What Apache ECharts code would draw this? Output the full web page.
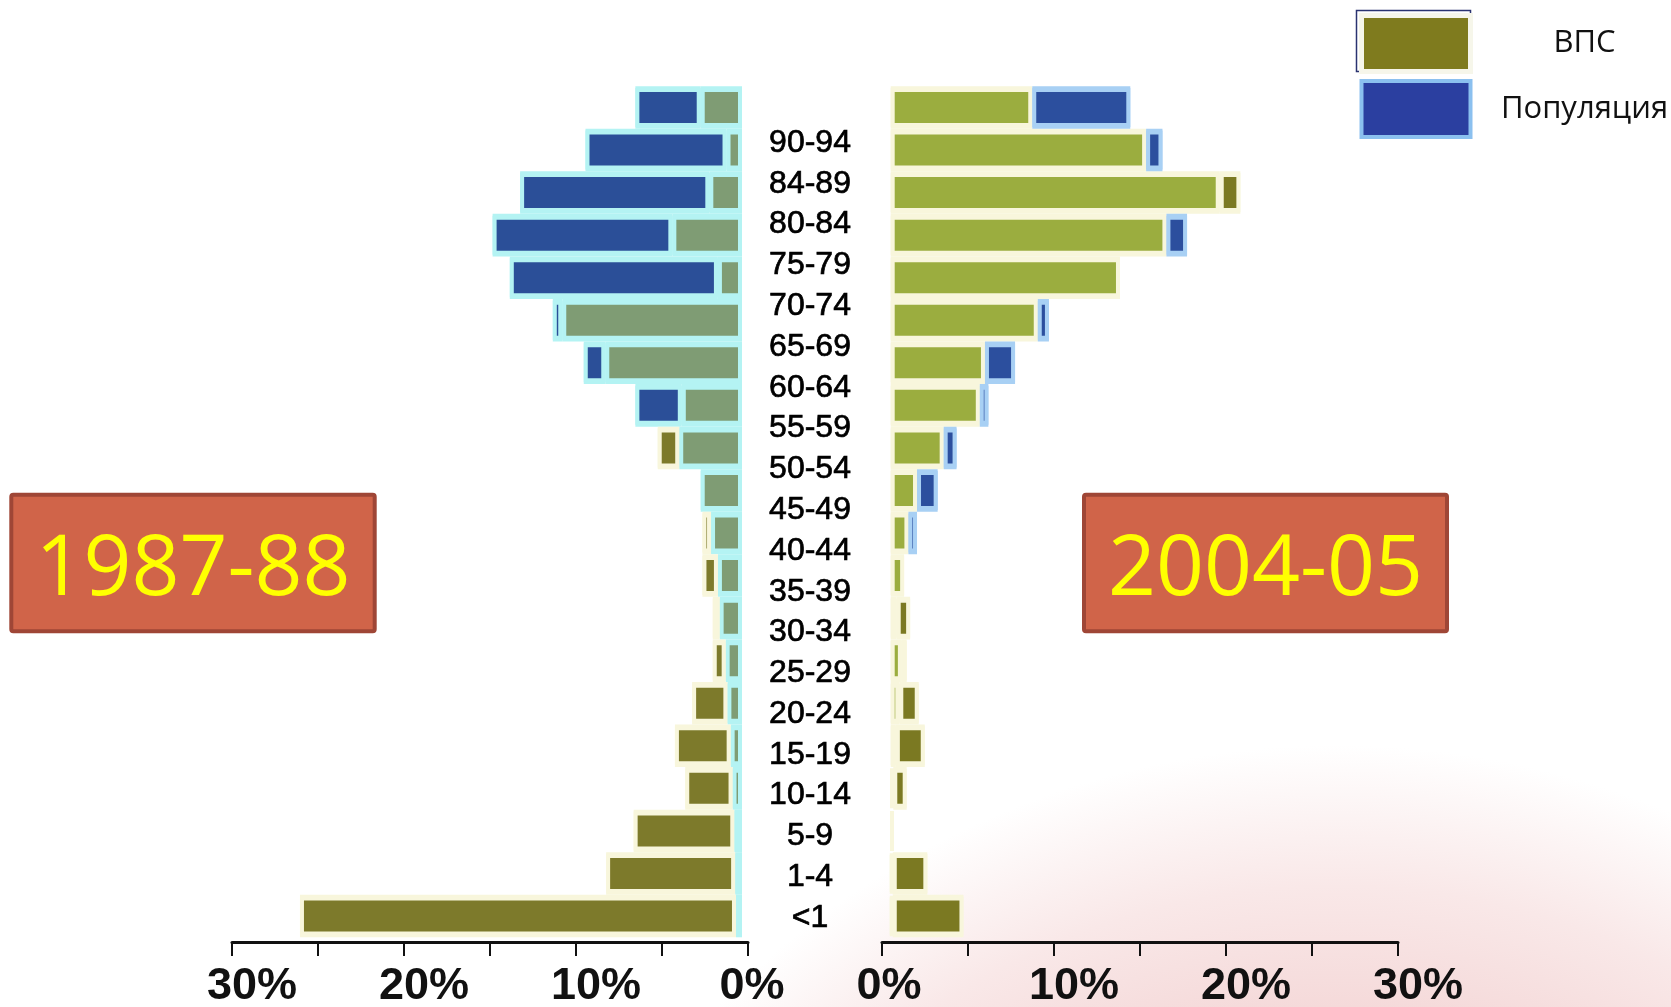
<!DOCTYPE html>
<html><head><meta charset="utf-8">
<script src="https://cdn.jsdelivr.net/npm/echarts@6/dist/echarts.min.js"></script>
<style>html,body{margin:0;padding:0;background:#fff}#c{width:1671px;height:1007px}</style>
</head><body><div id="c"></div>
<script>
// Age groups, bottom (<1) to top
const ageGroups = ['<1','1-4','5-9','10-14','15-19','20-24','25-29','30-34','35-39','40-44','45-49','50-54','55-59','60-64','65-69','70-74','75-79','80-84','84-89','90-94'];
// 1987-88 (%)
const chd1987 = [25.7, 7.9, 6.3, 3.3, 3.9, 2.9, 1.7, 1.7, 2.3, 2.3, 2.4, 4.9, 3.5, 7.95, 10.45, 1.4, 4.05, 1.9, 0.9, 2.4];
const pop1987 = [0.35, 0.4, 0.45, 0.55, 0.66, 0.85, 0.95, 1.3, 1.4, 1.8, 2.4, 3.65, 6.2, 9.2, 11.0, 13.5, 14.5, 12.9, 9.1, 6.2];
// 2004-05 (%)
const chd2004 = [4.23, 2.13, 0.15, 0.93, 1.98, 1.63, 0.93, 1.13, 0.78, 1.03, 1.53, 3.08, 5.18, 5.48, 8.55, 13.33, 16.03, 20.33, 14.85, 8.23];
const pop2004 = [0.12, 0.12, 0.15, 0.15, 0.3, 0.5, 0.65, 0.35, 0.78, 1.53, 2.73, 3.83, 5.68, 7.23, 9.2, 13.33, 17.23, 19.13, 15.8, 13.93];
const axisTicks = [0, 10, 20, 30];
const yearLabels = ['1987-88', '2004-05'];
const seriesNames = ['ВПС', 'Популяция'];

function split(chd, pop) {
  const overlap = chd.map((v, i) => Math.min(v, pop[i]));
  const popEx = chd.map((v, i) => (pop[i] - v > 0.001 ? +(pop[i] - v).toFixed(3) : '-'));
  const chdEx = chd.map((v, i) => (v - pop[i] > 0.001 ? +(v - pop[i]).toFixed(3) : '-'));
  return { overlap, popEx, chdEx };
}
const L = split(chd1987, pop1987);
const R = split(chd2004, pop2004);

const BW = 4;
function barSeries(name, data, axis, stack, color, border, gap, z) {
  return {
    name, type: 'bar', xAxisIndex: axis, yAxisIndex: axis, stack, data,
    barCategoryGap: gap, silent: true, z,
    itemStyle: { color, borderColor: border, borderWidth: BW }
  };
}
const CY = '#b4f3f3', CR = '#f8f6dc', LB = '#a8d0f4';

const labelFont = "'Liberation Sans',Arial,sans-serif";
function displayAxis(grid, inverse, zeroPad) {
  return {
    gridIndex: grid, type: 'value', min: 0, max: 30, interval: 5, inverse,
    axisLine: { show: true, lineStyle: { color: '#111', width: 3 } },
    axisTick: { show: true, length: 14, lineStyle: { color: '#111', width: 2 } },
    splitLine: { show: false },
    axisLabel: {
      margin: 22, color: '#111', fontSize: 45, fontWeight: 'bold', fontFamily: labelFont,
      formatter: v => (axisTicks.indexOf(v) < 0 ? '' : (v === 0 ? '{z|0%}' : '{n|' + v + '%}')),
      rich: { n: { padding: [0, 0, 0, 40] }, z: { padding: [0, 0, 0, zeroPad] } }
    }
  };
}
const hiddenCat = g => ({ gridIndex: g, type: 'category', data: ageGroups, show: false });
const hiddenVal = (g, inverse) => ({ gridIndex: g, type: 'value', min: 0, max: 30, show: false, inverse });
const barGrid = left => ({ left, width: 516, top: 86.2, bottom: 69.7, outerBoundsMode: 'none' });

const chart = echarts.init(document.getElementById('c'));
chart.setOption({
  animation: false,
  backgroundColor: { type: 'radial', x: 0.8, y: 1.6, r: 1.0, colorStops: [
    { offset: 0, color: '#f0c8c8' }, { offset: 0.6, color: '#f5dada' }, { offset: 0.72, color: '#f9e8e8' },
    { offset: 0.86, color: '#ffffff' }, { offset: 1, color: '#ffffff' } ] },
  grid: [
    barGrid(226),
    { left: 232, width: 516, top: 86, bottom: 65, outerBoundsMode: 'none' },
    barGrid(890.7),
    { left: 882, width: 516, top: 86, bottom: 65, outerBoundsMode: 'none' },
    { left: 748, width: 134, top: 122.6, bottom: 68.6, outerBoundsMode: 'none' },
    barGrid(226),
    barGrid(890.7)
  ],
  xAxis: [
    hiddenVal(0, true),
    displayAxis(1, true, 8),
    hiddenVal(2, false),
    displayAxis(3, false, 14),
    { gridIndex: 4, type: 'value', show: false },
    hiddenVal(5, true),
    hiddenVal(6, false)
  ],
  yAxis: [
    hiddenCat(0), hiddenCat(1), hiddenCat(2), hiddenCat(3),
    { gridIndex: 4, type: 'category', data: ageGroups, position: 'left',
      axisLine: { show: false }, axisTick: { show: false },
      axisLabel: { inside: true, interval: 0, margin: 62, align: 'center', color: '#000', fontSize: 32,
        textBorderColor: '#000', textBorderWidth: 0.7,
        fontFamily: "'Liberation Sans',Arial,sans-serif" } },
    hiddenCat(5), hiddenCat(6)
  ],
  legend: {
    left: 1359, top: 13, padding: 0, orient: 'vertical', itemWidth: 109, itemHeight: 56, itemGap: 5,
    icon: 'rect', selectedMode: false,
    data: [
      { name: seriesNames[0], itemStyle: { color: '#7f7b1e', borderColor: '#f6f6ea', borderWidth: 5 } },
      { name: seriesNames[1], itemStyle: { color: '#2b3fa0', borderColor: '#8bc0ef', borderWidth: 4 } }
    ],
    formatter: n => '{t|' + n + '}',
    textStyle: { color: '#111', fontSize: 31, fontFamily: "'Open Sans','Noto Sans',sans-serif",
      rich: { t: { width: 218, align: 'center', fontSize: 31, fontFamily: "'Open Sans','Noto Sans',sans-serif" } } }
  },
  graphic: [
    { type: 'rect', shape: { x: 1356.5, y: 10.5, width: 114, height: 61 }, style: { fill: 'none', stroke: '#2a3370', lineWidth: 1.5 }, silent: true },
    { type: 'rect', shape: { x: 11.3, y: 494.7, width: 363.4, height: 136.6, r: 2 },
      style: { fill: '#d06449', stroke: '#9f4636', lineWidth: 4 },
      textContent: { style: { text: yearLabels[0], fill: '#ffff00', font: "84px 'Open Sans','Noto Sans',sans-serif" } },
      textConfig: { position: 'inside', offset: [0, 8] } },
    { type: 'rect', shape: { x: 1084, y: 494.7, width: 363, height: 136.6, r: 2 },
      style: { fill: '#d06449', stroke: '#9f4636', lineWidth: 4 },
      textContent: { style: { text: yearLabels[1], fill: '#ffff00', font: "84px 'Open Sans','Noto Sans',sans-serif" } },
      textConfig: { position: 'inside', offset: [0, 8] } }
  ],
  series: [
    // light backdrop (fills the gaps between bars, like the original outline)
    barSeries('фон', L.overlap, 5, 'LB', CY, CY, '0%', 1),
    barSeries('фон', L.popEx, 5, 'LB', CY, CY, '0%', 1),
    barSeries('фон', L.chdEx, 5, 'LB', CR, CR, '0%', 1),
    barSeries('фон', R.overlap, 6, 'RB', CR, CR, '0%', 1),
    barSeries('фон', R.popEx, 6, 'RB', LB, LB, '0%', 1),
    barSeries('фон', R.chdEx, 6, 'RB', CR, CR, '0%', 1),
    // bars
    barSeries('ВПС и Популяция', L.overlap, 0, 'L', '#7f9c74', CY, '8.3%', 2),
    barSeries(seriesNames[1], L.popEx, 0, 'L', '#2b4f98', CY, '8.3%', 2),
    barSeries(seriesNames[0], L.chdEx, 0, 'L', '#7d7a2b', CR, '8.3%', 2),
    barSeries('ВПС и Популяция', R.overlap, 2, 'R', '#9bad3f', CR, '8.3%', 2),
    barSeries(seriesNames[1], R.popEx, 2, 'R', '#2c4f9e', LB, '8.3%', 2),
    barSeries(seriesNames[0], R.chdEx, 2, 'R', '#7b7922', CR, '8.3%', 2)
  ]
});
</script></body></html>
